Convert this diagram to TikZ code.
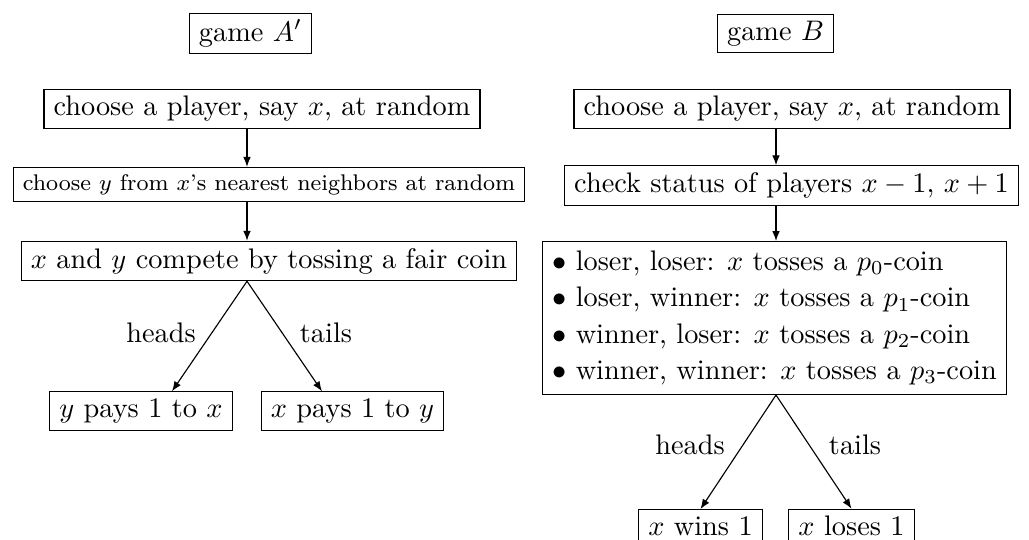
\documentclass[tikz,border=0pt]{standalone}
\usetikzlibrary{arrows.meta}
\begin{document}
\tikzset{
  box/.style={draw, inner xsep=3.4pt, inner ysep=2.4pt},
  arr/.style={-{Latex[length=3.5pt,width=2.7pt]}},
  lab/.style={inner sep=1pt}
}
\begin{tikzpicture}[x=0.35336pt,y=-0.35336pt]
\clip (0,0) rectangle (1029,540);
\useasboundingbox (0,0) rectangle (1029,540);
% left column: game A'
\node[box] (gA) at (250.5,33.5) {game $A'$};
\node[box] (c1) at (262,109) {choose a player, say $x$, at random};
\node[box,font=\footnotesize] (c2) at (269,184.5) {choose $y$ from $x$'s nearest neighbors at random};
\node[box] (c3) at (269,261) {$x$ and $y$ compete by tossing a fair coin};
\node[box] (yp) at (141,411) {$y$ pays 1 to $x$};
\node[box] (xp) at (352.5,411) {$x$ pays 1 to $y$};
\coordinate (axL) at (247,0);
\coordinate (hL) at (172,0);
\coordinate (tL) at (322,0);
\draw[arr] (c1.south -| axL) -- (c2.north -| axL);
\draw[arr] (c2.south -| axL) -- (c3.north -| axL);
\draw[arr] (c3.south -| axL) -- (yp.north -| hL);
\draw[arr] (c3.south -| axL) -- (xp.north -| tL);
\node[lab] (hdL) at (161,333) {heads};
\node[lab] (tlL) at (326,333) {tails};
% right column: game B
\node[box] (gB) at (775.5,33.5) {game $B$};
\node[box] (d1) at (792,109) {choose a player, say $x$, at random};
\node[box] (d2) at (791.5,185.5) {check status of players $x-1$, $x+1$};
\node[box,inner ysep=3.3pt,anchor=north west,align=left,font=\fontsize{10pt}{12.85pt}\selectfont] (d3) at (542,241)
  {$\bullet$ loser, loser: $x$ tosses a $p_0$-coin\\
   $\bullet$ loser, winner: $x$ tosses a $p_1$-coin\\
   $\bullet$ winner, loser: $x$ tosses a $p_2$-coin\\
   $\bullet$ winner, winner: $x$ tosses a $p_3$-coin};
\node[box] (xw) at (700.5,526) {$x$ wins 1};
\node[box] (xl) at (851.5,526) {$x$ loses 1};
\coordinate (axR) at (776,0);
\draw[arr] (d1.south -| axR) -- (d2.north -| axR);
\draw[arr] (d2.south -| axR) -- (d3.north -| axR);
\draw[arr] (d3.south -| axR) -- (xw.north);
\draw[arr] (d3.south -| axR) -- (xl.north);
\node[lab] (hdR) at (690,445) {heads};
\node[lab] (tlR) at (855,445) {tails};
\end{tikzpicture}
\end{document}
